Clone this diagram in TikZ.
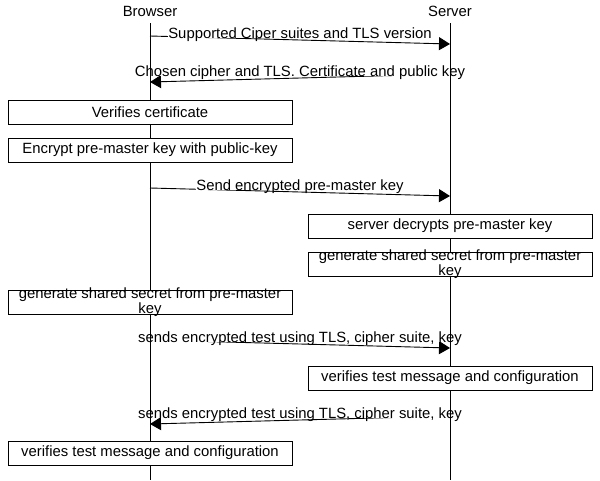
\documentclass[tikz,border=0pt]{standalone}
\usepackage{fontspec}
\setmainfont{Liberation Sans}
\usetikzlibrary{arrows.meta}
\begin{document}
\begin{tikzpicture}[x=1pt,y=-1pt,
  every node/.style={font=\fontsize{14.85}{11.6}\selectfont},
  actbox/.style={draw, fill=white, line width=0.9pt, minimum width=284pt, minimum height=24pt, inner sep=0pt, align=center},
  twoline/.style={actbox, label={[align=center, inner sep=0pt]center:#1}},
  msglabel/.style={fill=white, inner sep=0pt, text depth=0pt, anchor=base},
  msg/.style={line width=0.9pt, -{Triangle[length=11pt,width=13pt]}},
  lifeline/.style={line width=0.9pt}]
\useasboundingbox (0,0) rectangle (600,480);

% actors
\node[anchor=base] (browser) at (150,16) {Browser};
\node[anchor=base] (server) at (450,16) {Server};
\coordinate (bt) at (150,23);
\coordinate (bb) at (150,480);
\coordinate (st) at (450,23);
\coordinate (sb) at (450,480);

% message coordinates
\coordinate (m1s) at (150,36);  \coordinate (m1e) at (450,44);
\coordinate (m2s) at (450,74);  \coordinate (m2e) at (150,82);
\coordinate (m3s) at (150,188); \coordinate (m3e) at (450,196);
\coordinate (m4s) at (150,340); \coordinate (m4e) at (450,348);
\coordinate (m5s) at (450,416); \coordinate (m5e) at (150,424);

% message lines
\draw[msg] (m1s) -- (m1e);
\draw[msg] (m2s) -- (m2e);
\draw[msg] (m3s) -- (m3e);
\draw[msg] (m4s) -- (m4e);
\draw[msg] (m5s) -- (m5e);

% message labels
\node[msglabel] (l1) at (300,38) {Supported Ciper suites and TLS version};
\node[msglabel] (l2) at (300,76) {Chosen cipher and TLS. Certificate and public key};
\node[msglabel] (l3) at (300,190) {Send encrypted pre-master key};
\node[msglabel] (l4) at (300,342) {sends encrypted test using TLS, cipher suite, key};
\node[msglabel] (l5) at (300,418) {sends encrypted test using TLS, cipher suite, key};

% lifelines
\draw[lifeline] (bt) -- (bb);
\draw[lifeline] (st) -- (sb);

% boxes
\node[actbox] (b1) at (150,112) {Verifies certificate};
\node[actbox] (b2) at (150,150) {Encrypt pre-master key with public-key};
\node[actbox] (b3) at (450,226) {server decrypts pre-master key};
\node[twoline={generate shared secret from pre-master\\key}] (b4) at (450,264) {};
\node[twoline={generate shared secret from pre-master\\key}] (b5) at (150,302) {};
\node[actbox] (b6) at (450,378) {verifies test message and configuration};
\node[actbox] (b7) at (150,453) {verifies test message and configuration};
\end{tikzpicture}
\end{document}
